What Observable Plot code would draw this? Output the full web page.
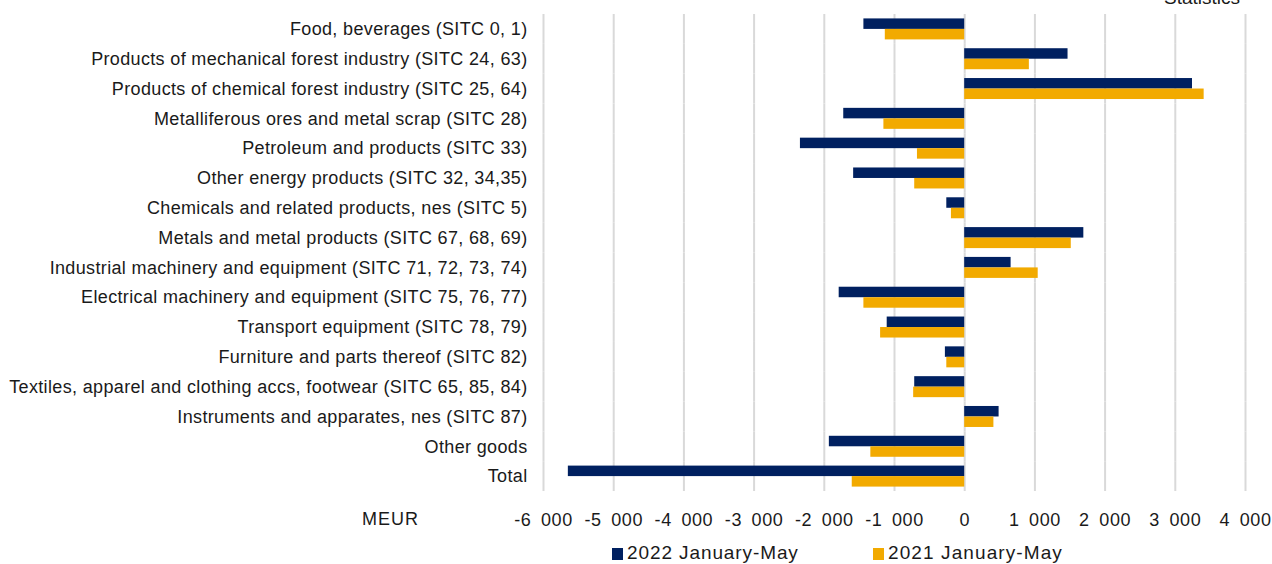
<!DOCTYPE html>
<html>
<head>
<meta charset="utf-8">
<script src="https://cdn.jsdelivr.net/npm/d3@7"></script>
<script src="https://cdn.jsdelivr.net/npm/@observablehq/plot@0.6"></script>
<style>
  html, body { margin: 0; padding: 0; background: #fff; }
  #wrap { position: relative; width: 1272px; height: 564px; overflow: hidden; font-family: "Liberation Sans", Arial, sans-serif; color: #1a1a1a; }
  .abs { position: absolute; white-space: nowrap; }
  .sw { display: inline-block; width: 11px; height: 12px; margin-right: 4px; vertical-align: -1px; }
  #chart svg [aria-label="fy-axis tick label"] text { letter-spacing: 0.35px; }
  #chart svg [aria-label="x-axis tick label"] text { letter-spacing: 0.6px; }
</style>
</head>
<body>
<div id="wrap">
  <div class="abs" id="stat" style="left:1164px; top:-13px; font-size:19px;">Statistics</div>
  <div id="chart"></div>
  <div class="abs" id="meur" style="left:362px; top:509px; font-size:18px; letter-spacing:1px;">MEUR</div>
  <div class="abs" id="leg1" style="left:612px; top:542px; font-size:19px; letter-spacing:0.9px;"><span class="sw" style="background:#002060"></span>2022 January-May</div>
  <div class="abs" id="leg2" style="left:873px; top:542px; font-size:19px; letter-spacing:1.1px;"><span class="sw" style="background:#F2AA00"></span>2021 January-May</div>
</div>
<script>
const categories = [
  "Food, beverages (SITC 0, 1)",
  "Products of mechanical forest industry (SITC 24, 63)",
  "Products of chemical forest industry (SITC 25, 64)",
  "Metalliferous ores and metal scrap (SITC 28)",
  "Petroleum and products (SITC 33)",
  "Other energy products (SITC 32, 34,35)",
  "Chemicals and related products, nes (SITC 5)",
  "Metals and metal products (SITC 67, 68, 69)",
  "Industrial machinery and equipment (SITC 71, 72, 73, 74)",
  "Electrical machinery and equipment (SITC 75, 76, 77)",
  "Transport equipment (SITC 78, 79)",
  "Furniture and parts thereof (SITC 82)",
  "Textiles, apparel and clothing accs, footwear (SITC 65, 85, 84)",
  "Instruments and apparates, nes (SITC 87)",
  "Other goods",
  "Total"
];
const seriesNames = ["2022 January-May", "2021 January-May"];
const values2022 = [-1436, 1472, 3245, -1723, -2340, -1582, -255, 1697, 661, -1788, -1104, -275, -712, 490, -1928, -5646];
const values2021 = [-1131, 921, 3411, -1151, -673, -712, -189, 1518, 1047, -1436, -1198, -255, -727, 416, -1337, -1602];
const xTicks = [-6000, -5000, -4000, -3000, -2000, -1000, 0, 1000, 2000, 3000, 4000];

const data = categories.flatMap((c, i) => [
  {category: c, series: seriesNames[0], value: values2022[i]},
  {category: c, series: seriesNames[1], value: values2021[i]}
]);

const locale = d3.formatLocale({decimal: ",", thousands: "\u2002", grouping: [3], minus: "-"});
const fmt = locale.format(",d");

const chart = Plot.plot({
  width: 1272,
  height: 538,
  marginLeft: 543,
  marginRight: 27,
  marginTop: 14,
  marginBottom: 47,
  style: {fontFamily: "'Liberation Sans', Arial, sans-serif", fontSize: "18px", color: "#1a1a1a", background: "transparent", overflow: "visible"},
  x: {domain: [-6000, 4000], label: null},
  y: {domain: seriesNames, axis: null, paddingInner: 0, paddingOuter: 0.42, round: false},
  fy: {domain: categories, padding: 0, round: false, label: null},
  color: {domain: seriesNames, range: ["#002060", "#F2AA00"]},
  marks: [
    Plot.ruleX(xTicks, {stroke: "#d9d9d9", strokeWidth: 2}),
    Plot.barX(data, {fy: "category", y: "series", x: "value", fill: "series"}),
    Plot.axisX({ticks: xTicks, tickFormat: fmt, tickSize: 0, tickPadding: 22, label: null, fontSize: 18}),
    Plot.axisFy({anchor: "left", tickSize: 0, tickPadding: 16, label: null, fontSize: 18})
  ]
});
document.getElementById("chart").appendChild(chart);
</script>
</body>
</html>
